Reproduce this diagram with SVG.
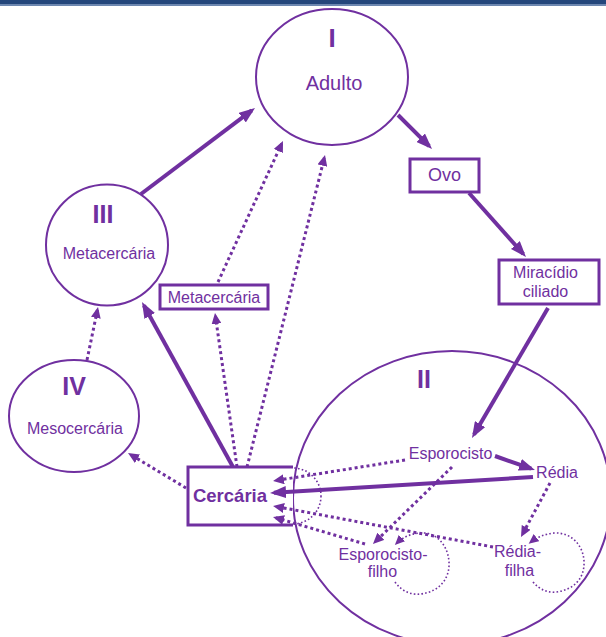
<svg xmlns="http://www.w3.org/2000/svg" width="606" height="637" viewBox="0 0 606 637">
<defs>
<style>
.t{font-family:"Liberation Sans",Arial,sans-serif;fill:#7030a0;text-anchor:middle;font-size:16px}
.n{font-weight:bold;font-size:25px}
.big{font-size:20px}
.m{font-size:18px}
.cb{font-weight:bold;font-size:18.5px}
.c{fill:#fff;stroke:#7030a0;stroke-width:2}
.bx{fill:#fff;stroke:#7030a0;stroke-width:3}
.s{fill:none;stroke:#7030a0;stroke-width:4}
.d{fill:none;stroke:#7030a0;stroke-width:3;stroke-dasharray:3 3}
.l{fill:none;stroke:#7030a0;stroke-width:1.6;stroke-dasharray:1.6 2.2}
</style>
<marker id="ah" markerUnits="userSpaceOnUse" markerWidth="16" markerHeight="12" viewBox="0 0 16 12" refX="12" refY="6" orient="auto"><path d="M0,0L16,6L0,12z" fill="#7030a0"/></marker>
<marker id="ad" markerUnits="userSpaceOnUse" markerWidth="11" markerHeight="10" viewBox="0 0 11 10" refX="8" refY="5" orient="auto"><path d="M0,0L11,5L0,10z" fill="#7030a0"/></marker>
<marker id="al" markerUnits="userSpaceOnUse" markerWidth="10" markerHeight="9" viewBox="0 0 10 9" refX="7" refY="4.5" orient="auto"><path d="M0,0L10,4.5L0,9z" fill="#7030a0"/></marker>
</defs>
<rect x="0" y="0" width="606" height="637" fill="#fff"/>
<rect x="0" y="0" width="606" height="4" fill="#24467b"/>
<rect x="0" y="4" width="606" height="2" fill="#6d87b0"/>

<g id="node-II">
<ellipse cx="452" cy="498" rx="159" ry="147" fill="none" stroke="#7030a0" stroke-width="2"/>
<text class="t n" x="424" y="388">II</text>
</g>

<g id="node-I">
<ellipse class="c" cx="332" cy="77" rx="76" ry="68"/>
<text class="t n" x="332" y="47" style="font-size:26px">I</text>
<text class="t big" x="334" y="90">Adulto</text>
</g>

<g id="node-III">
<ellipse class="c" cx="107" cy="245" rx="61" ry="60.5"/>
<text class="t n" x="103" y="223">III</text>
<text class="t" x="109" y="259">Metacercária</text>
</g>

<g id="node-IV">
<ellipse class="c" cx="74" cy="416" rx="65" ry="56"/>
<text class="t n" x="74" y="395">IV</text>
<text class="t" x="75" y="434">Mesocercária</text>
</g>

<g id="node-metacercaria-box">
<rect class="bx" x="160" y="285" width="108" height="24"/>
<text class="t" x="214" y="303">Metacercária</text>
</g>

<g id="node-ovo">
<rect class="bx" x="410" y="159" width="69" height="33"/>
<text class="t m" x="444.5" y="181">Ovo</text>
</g>

<g id="node-miracidio">
<rect class="bx" x="499" y="260" width="100" height="44"/>
<text class="t" x="545.5" y="278">Miracídio</text>
<text class="t" x="545.5" y="297">ciliado</text>
</g>

<g id="node-cercaria">
<circle class="l" cx="293" cy="496" r="28"/>
<rect x="188" y="467" width="105" height="58" fill="#fff"/>
<path d="M293,467H188V525H293" fill="none" stroke="#7030a0" stroke-width="3"/>
<text class="t cb" x="230" y="502">Cercária</text>
</g>

<g id="node-esporocisto">
<text class="t" x="450.5" y="459">Esporocisto</text>
</g>
<g id="node-redia">
<text class="t" x="557" y="478">Rédia</text>
</g>
<g id="node-esporocisto-filho">
<text class="t" x="383" y="560">Esporocisto-</text>
<text class="t" x="382.5" y="577">filho</text>
</g>
<g id="node-redia-filha">
<text class="t" x="517.5" y="557">Rédia-</text>
<text class="t" x="519.5" y="576">filha</text>
</g>

<g id="connectors">
<path class="s" d="M141,194L251.8,110.4" marker-end="url(#ah)"/>
<path class="s" d="M398,115L429.2,146.2" marker-end="url(#ah)"/>
<path class="s" d="M469,193L523.3,254" marker-end="url(#ah)"/>
<path class="s" d="M548,308L474,434.5" marker-end="url(#ah)"/>
<path class="s" d="M495,456L531.2,468.7" marker-end="url(#ah)"/>
<path class="s" d="M533,477L274,492.8" marker-end="url(#ah)"/>
<path class="s" d="M233,467L143.9,305.5" marker-end="url(#ah)"/>

<path class="d" d="M237,467L215.4,316" marker-end="url(#ad)"/>
<path class="d" d="M218,282L281.7,143.7" marker-end="url(#ad)"/>
<path class="d" d="M247,467L324.3,157.9" marker-end="url(#ad)"/>
<path class="d" d="M87,360L97.4,310" marker-end="url(#ad)"/>
<path class="d" d="M186,488L130.6,454.6" marker-end="url(#ad)"/>
<path class="d" d="M405,460L276,480.5" marker-end="url(#ad)"/>
<path class="d" d="M493,547L276,506.5" marker-end="url(#ad)"/>
<path class="d" d="M365,544L275.9,517.8" marker-end="url(#ad)"/>
<path class="d" d="M452,467L375.1,541.9" marker-end="url(#ad)"/>
<path class="d" d="M550,483L522.4,534.4" marker-end="url(#ad)"/>

<path class="l" d="M395,582C402,592 412,595 420,594C440,592 450,578 449,562C448,545 436,532 422,533C412,533 403,537 397,543" marker-end="url(#al)"/>
<path class="l" d="M533,582C540,590 548,593 556,592C574,590 585,578 584,561C583,544 570,532 554,533C544,534 536,538 531,542" marker-end="url(#al)"/>
</g>
</svg>
